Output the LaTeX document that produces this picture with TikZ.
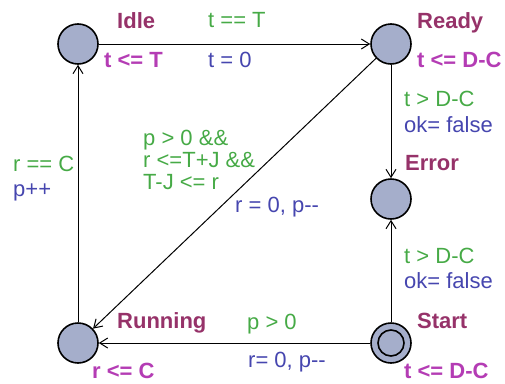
\documentclass[tikz,border=0pt]{standalone}
\usepackage{fontspec}
\setmainfont{Liberation Sans}[Ligatures=TeXOff]
\usetikzlibrary{arrows.meta}

\definecolor{locfill}{RGB}{165,174,203}
\definecolor{namecol}{RGB}{150,50,105}
\definecolor{invcol}{RGB}{180,60,180}
\definecolor{guardcol}{RGB}{70,170,70}
\definecolor{updcol}{RGB}{70,70,175}

\tikzset{
  loc/.style={draw, circle, fill=locfill, line width=1.6pt, minimum size=40pt, inner sep=0pt},
  lbl/.style={anchor=base west, inner sep=0pt, font=\fontsize{22}{22}\selectfont},
  locname/.style={lbl, text=namecol, font=\fontsize{22}{22}\selectfont\bfseries},
  inv/.style={lbl, text=invcol, font=\fontsize{22}{22}\selectfont\bfseries},
  guard/.style={lbl, text=guardcol},
  upd/.style={lbl, text=updcol},
  edge/.style={->, line width=1pt}
}

\begin{document}
\begin{tikzpicture}[x=1pt, y=-1pt, >={Straight Barb[length=8pt,width=10pt]}]
    \useasboundingbox (0,0) rectangle (505,383);

    % locations
    \node[loc] (idle) at (78,44) {};
    \node[loc] (ready) at (391,44) {};
    \node[loc] (error) at (391,199) {};
    \node[loc] (start) at (391,343) {};
    \node[loc] (running) at (78,343) {};
    \draw[line width=1.6pt] (start.center) circle[radius=13];

    % names and invariants
    \node[locname] (idlename) at (117,28) {Idle};
    \node[inv] (idleinv) at (104,67) {t <= T};
    \node[locname] (readyname) at (417,28) {Ready};
    \node[inv] (readyinv) at (417,67) {t <= D-C};
    \node[locname] (errorname) at (405,170) {Error};
    \node[locname] (runningname) at (117,328) {Running};
    \node[inv] (runninginv) at (92,378) {r <= C};
    \node[locname] (startname) at (417,328) {Start};
    \node[inv] (startinv) at (404,378) {t <= D-C};

    % edges
    \draw[edge] (idle) -- (ready);
    \draw[edge] (ready) -- (error);
    \draw[edge] (start) -- (error);
    \draw[edge] (start) -- (running);
    \draw[edge] (running) -- (idle);
    \draw[edge] (ready) -- (running);

    % guards and updates
    \node[guard] (tick) at (208,27) {t == T};
    \node[upd] (tickupd) at (208,67) {t = 0};
    \node[guard] (late) at (404,106) {t > D-C};
    \node[upd] (lateupd) at (404,132) {ok= false};
    \node[guard] (startlate) at (404,263) {t > D-C};
    \node[upd] (startlateupd) at (404,288) {ok= false};
    \node[guard] (done) at (13,171) {r == C};
    \node[upd] (doneupd) at (13,196) {p++};
    \node[guard] (relA) at (143,145) {p > 0 \&\&};
    \node[guard] (relB) at (143,167) {r <=T+J \&\&};
    \node[guard] (relC) at (143,189) {T-J <= r};
    \node[upd] (relupd) at (235,212) {r = 0, p--};
    \node[guard] (go) at (247,329) {p > 0};
    \node[upd] (goupd) at (248,367) {r= 0, p--};
\end{tikzpicture}
\end{document}
